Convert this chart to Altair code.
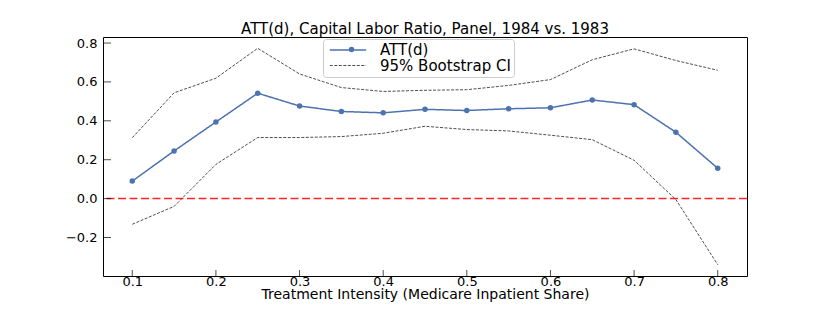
import altair as alt
import pandas as pd

# ---- data ----
x_vals = [0.10, 0.15, 0.20, 0.25, 0.30, 0.35, 0.40, 0.45, 0.50, 0.55, 0.60, 0.65, 0.70, 0.75, 0.80]
att = [0.090, 0.245, 0.394, 0.542, 0.476, 0.448, 0.441, 0.459, 0.453, 0.462, 0.467, 0.507, 0.483, 0.341, 0.156]
ci_upper = [0.313, 0.544, 0.619, 0.773, 0.641, 0.571, 0.551, 0.557, 0.560, 0.582, 0.612, 0.714, 0.770, 0.710, 0.660]
ci_lower = [-0.132, -0.040, 0.176, 0.314, 0.314, 0.319, 0.336, 0.372, 0.355, 0.348, 0.326, 0.303, 0.197, -0.005, -0.340]

series_names = ["ATT(d)", "95% Bootstrap CI"]
x_ticks = [0.1, 0.2, 0.3, 0.4, 0.5, 0.6, 0.7, 0.8]
y_ticks = [-0.2, 0.0, 0.2, 0.4, 0.6, 0.8]
x_domain = [0.065, 0.835]
y_domain = [-0.398, 0.831]
ref_line = [0.0]

title_text = "ATT(d), Capital Labor Ratio, Panel, 1984 vs. 1983"
x_title = "Treatment Intensity (Medicare Inpatient Share)"

FONT = "DejaVu Sans"
BLUE = "#4c72b0"

rows = []
for xv, a, u, l in zip(x_vals, att, ci_upper, ci_lower):
    rows.append({"x": xv, "y": a, "series": series_names[0], "line": "att"})
    rows.append({"x": xv, "y": u, "series": series_names[1], "line": "upper"})
    rows.append({"x": xv, "y": l, "series": series_names[1], "line": "lower"})
df_lines = pd.DataFrame(rows)
df_att = pd.DataFrame({"x": x_vals, "y": att, "series": [series_names[0]] * len(x_vals)})
df_yt = pd.DataFrame({"y": y_ticks, "x": [x_domain[0]] * len(y_ticks)})
df_xt = pd.DataFrame({"x": x_ticks, "y": [y_domain[0]] * len(x_ticks)})
df_ref = pd.DataFrame({"y": ref_line})

X = alt.X("x:Q", scale=alt.Scale(domain=x_domain, nice=False, zero=False),
          axis=alt.Axis(values=x_ticks, format=".1f", title=x_title, labelPadding=-1,
                        titleY=22, titleBaseline="alphabetic", titleFontSize=14))
Y = alt.Y("y:Q", scale=alt.Scale(domain=y_domain, nice=False, zero=False),
          axis=alt.Axis(values=y_ticks, format=".1f", title=None, labelPadding=6))

color_scale = alt.Scale(domain=series_names, range=[BLUE, "#222222"])
dash_scale = alt.Scale(domain=series_names, range=[[1, 0], [3, 1.5]])
width_scale = alt.Scale(domain=series_names, range=[1.5, 0.8])

LEG_Y = 2
LEG_PAD = 3
leg_lines = alt.Legend(
    title=None, orient="none", legendX=220, legendY=LEG_Y, padding=LEG_PAD,
    symbolType="M-0.6,0L4.6,0", symbolSize=196, symbolStrokeWidth=1.3,
    labelOffset=38, fillColor="white", strokeColor="#cccccc", cornerRadius=3,
)
leg_dot = alt.Legend(
    title=None, orient="none", legendX=238, legendY=LEG_Y, padding=LEG_PAD,
    symbolType="circle", symbolSize=30, symbolStrokeWidth=0,
    labelExpr="''", labelOffset=38,
)

lines = alt.Chart(df_lines).mark_line().encode(
    x=X, y=Y,
    color=alt.Color("series:N", scale=color_scale, legend=leg_lines),
    strokeDash=alt.StrokeDash("series:N", scale=dash_scale, legend=leg_lines),
    strokeWidth=alt.StrokeWidth("series:N", scale=width_scale, legend=None),
    detail="line:N",
)

points = alt.Chart(df_att).mark_circle(size=30, opacity=1).encode(
    x=X, y=Y,
    fill=alt.Fill("series:N", scale=alt.Scale(domain=[series_names[0]], range=[BLUE]),
                  legend=leg_dot),
)

ref = alt.Chart(df_ref).mark_rule(color="red", opacity=0.85, strokeWidth=1.5,
                                  strokeDash=[8, 3.5]).encode(y=alt.Y("y:Q"))

# inward tick marks (matplotlib "direction: in")
yticks = alt.Chart(df_yt).mark_tick(orient="horizontal", size=8, thickness=1,
                                    xOffset=4, color="black").encode(x=X, y=Y)
xticks = alt.Chart(df_xt).mark_tick(orient="vertical", size=6, thickness=1,
                                    yOffset=-3, color="black").encode(x=X, y=Y)

chart = alt.layer(lines, points, ref, yticks, xticks).properties(
    width=644, height=239,
    title=alt.Title(title_text, font=FONT, fontSize=15, fontWeight="normal",
                    anchor="middle", color="black", dy=4),
    autosize=alt.AutoSizeParams(type="none"),
    padding={"left": 95, "top": 29, "right": 60, "bottom": 30},
).configure_view(stroke="black", strokeWidth=1).configure_axis(
    domain=False, grid=False, ticks=False, tickSize=0,
    labelFont=FONT, labelFontSize=13, labelColor="black",
    titleFont=FONT, titleColor="black", titleFontWeight="normal",
).configure_legend(
    labelFont=FONT, labelFontSize=15, labelColor="black",
    rowPadding=0, labelLimit=400,
)

chart.save("out.html", embed_options={"renderer": "svg", "actions": False})
